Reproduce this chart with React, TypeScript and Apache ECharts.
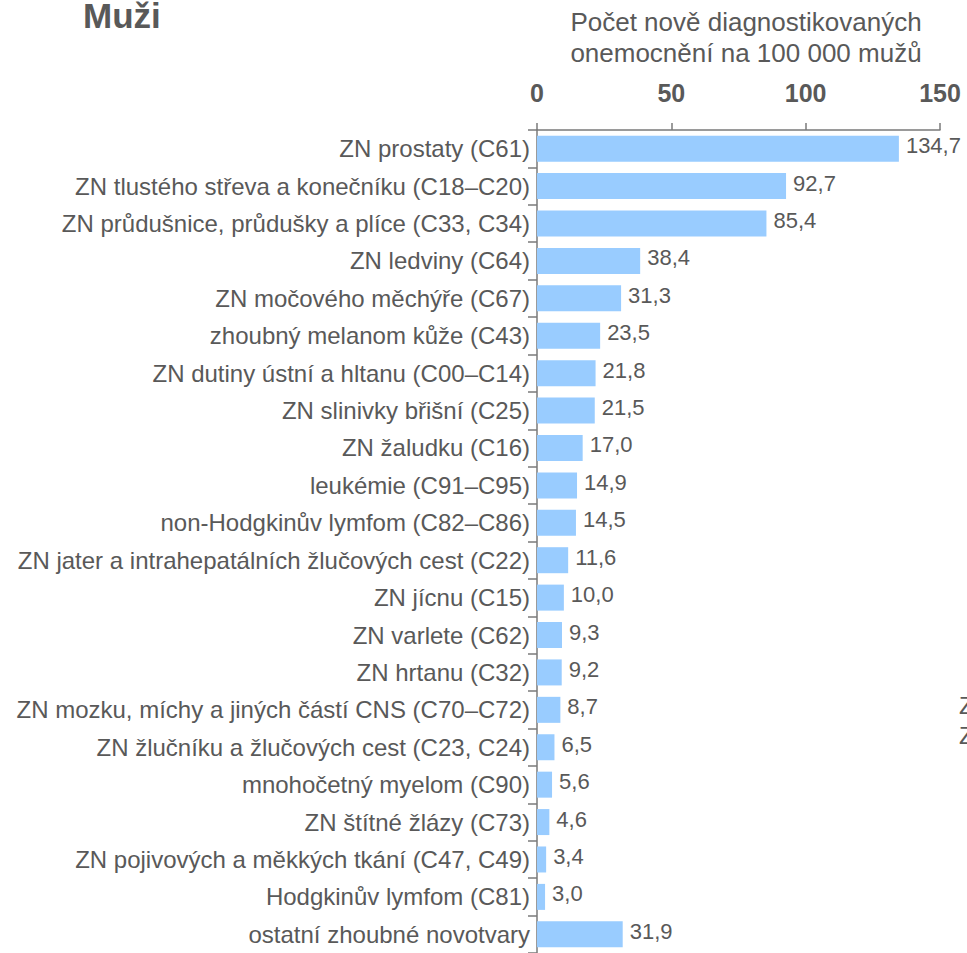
import React, { useEffect, useRef } from "react";
import * as echarts from "echarts";

const categories = [
  "ZN prostaty (C61)",
  "ZN tlustého střeva a konečníku (C18–C20)",
  "ZN průdušnice, průdušky a plíce (C33, C34)",
  "ZN ledviny (C64)",
  "ZN močového měchýře (C67)",
  "zhoubný melanom kůže (C43)",
  "ZN dutiny ústní a hltanu (C00–C14)",
  "ZN slinivky břišní (C25)",
  "ZN žaludku (C16)",
  "leukémie (C91–C95)",
  "non-Hodgkinův lymfom (C82–C86)",
  "ZN jater a intrahepatálních žlučových cest (C22)",
  "ZN jícnu (C15)",
  "ZN varlete (C62)",
  "ZN hrtanu (C32)",
  "ZN mozku, míchy a jiných částí CNS (C70–C72)",
  "ZN žlučníku a žlučových cest (C23, C24)",
  "mnohočetný myelom (C90)",
  "ZN štítné žlázy (C73)",
  "ZN pojivových a měkkých tkání (C47, C49)",
  "Hodgkinův lymfom (C81)",
  "ostatní zhoubné novotvary",
];

const values = [
  134.7, 92.7, 85.4, 38.4, 31.3, 23.5, 21.8, 21.5, 17.0, 14.9, 14.5, 11.6,
  10.0, 9.3, 9.2, 8.7, 6.5, 5.6, 4.6, 3.4, 3.0, 31.9,
];

const title = "Muži";
const axisTitleLines = ["Počet nově diagnostikovaných", "onemocnění na 100 000 mužů"];
const clippedLabels = ["ZN", "ZN"];

export default function App() {
  const ref = useRef<HTMLDivElement>(null);
  useEffect(() => {
    document.body.style.margin = "0";
    const chart = echarts.init(ref.current!, null, { renderer: "svg" });
    const font = "'Liberation Sans', Arial, sans-serif";
    const grey = "#595959";
    chart.setOption({
      animation: false,
      textStyle: { fontFamily: font },
      grid: { left: 537, right: 27, top: 130, height: 825 },
      xAxis: {
        type: "value",
        position: "top",
        min: 0,
        max: 150,
        interval: 50,
        axisLine: { show: true, lineStyle: { color: "#7a7a7a", width: 1.5 } },
        axisTick: { show: true, length: 7, lineStyle: { color: "#7a7a7a", width: 1.5 } },
        splitLine: { show: false },
        axisLabel: {
          color: grey,
          fontSize: 25,
          fontWeight: "bold",
          fontFamily: font,
          margin: 25,
        },
      },
      yAxis: {
        type: "category",
        inverse: true,
        data: categories,
        axisLine: { show: true, lineStyle: { color: "#7a7a7a", width: 1.5 } },
        axisTick: { show: true, length: 9, lineStyle: { color: "#7a7a7a", width: 1.5 } },
        axisLabel: {
          color: grey,
          fontSize: 24,
          fontFamily: font,
          margin: 7,
          padding: [13, 0, 0, 0],
        },
      },
      series: [
        {
          type: "bar",
          data: values,
          barWidth: 26,
          itemStyle: { color: "#99CCFF" },
          label: {
            show: true,
            position: "right",
            distance: 7,
            offset: [0, -3],
            color: grey,
            fontSize: 22,
            fontFamily: font,
            formatter: (p: any) => Number(p.value).toFixed(1).replace(".", ","),
          },
        },
      ],
      graphic: [
        {
          type: "text",
          x: 83,
          y: 15,
          style: {
            text: title,
            fill: grey,
            font: `bold 35px ${font}`,
            textVerticalAlign: "middle",
          },
        },
        {
          type: "text",
          x: 746,
          y: 22,
          style: {
            text: axisTitleLines[0],
            fill: grey,
            font: `26px ${font}`,
            textAlign: "center",
            textVerticalAlign: "middle",
          },
        },
        {
          type: "text",
          x: 746,
          y: 53,
          style: {
            text: axisTitleLines[1],
            fill: grey,
            font: `26px ${font}`,
            textAlign: "center",
            textVerticalAlign: "middle",
          },
        },
        {
          type: "text",
          x: 959,
          y: 705,
          style: { text: clippedLabels[0], fill: grey, font: `24px ${font}`, textVerticalAlign: "middle" },
        },
        {
          type: "text",
          x: 959,
          y: 735,
          style: { text: clippedLabels[1], fill: grey, font: `24px ${font}`, textVerticalAlign: "middle" },
        },
      ],
    });
    return () => chart.dispose();
  }, []);
  return <div ref={ref} style={{ width: 967, height: 953, overflow: "hidden" }} />;
}
